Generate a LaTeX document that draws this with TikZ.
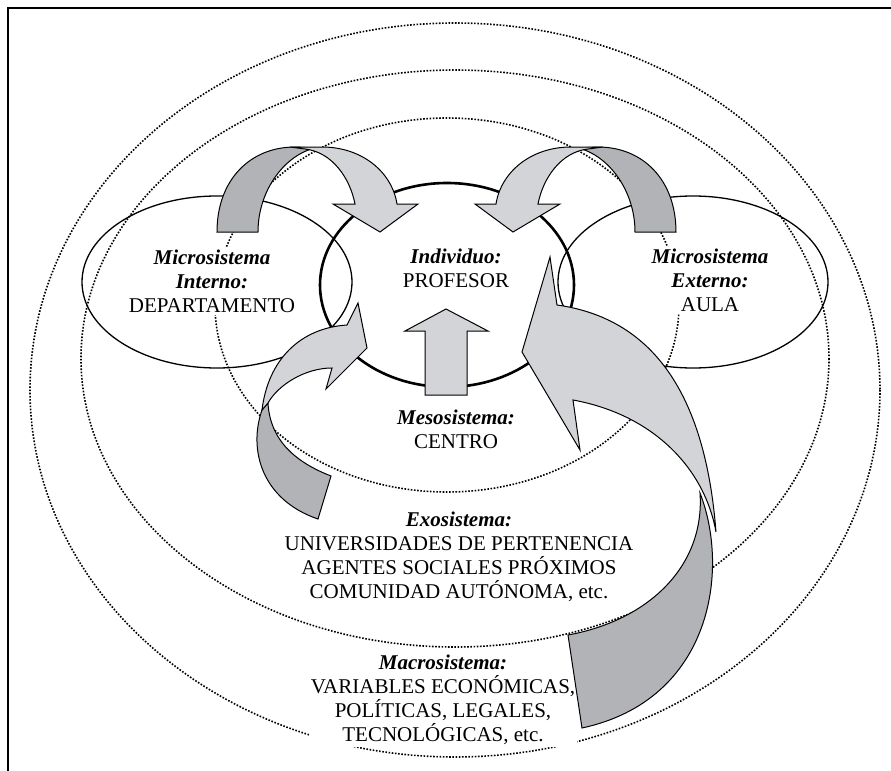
\documentclass[tikz,border=0pt]{standalone}
\usepackage{fontspec}
\setmainfont{Liberation Serif}
\definecolor{darkband}{RGB}{178,179,183}
\definecolor{lightband}{RGB}{211,212,215}
\begin{document}
\begin{tikzpicture}[x=0.5pt, y=-0.5pt,
  sistema/.style={line width=0.8pt, dash pattern=on 0.8pt off 0.8pt},
  micro/.style={line width=0.65pt},
  band/.style={draw, line width=0.5pt},
  rotulo/.style={anchor=north, align=center, fill=white, inner sep=1pt, font={\fontsize{10.5}{12}\selectfont}}]
\useasboundingbox (0,0) rectangle (891,771);
% frame
\draw[line width=0.65pt] (891,8) -- (8,8) -- (8,771);

% Macro-, exo- and mesosystem
\draw[sistema] (455,390) ellipse [x radius=425, y radius=367];
\draw[sistema] (455,358.5) ellipse [x radius=374, y radius=288.5];
\draw[sistema] (447,305) ellipse [x radius=232, y radius=187];

% Texts
\node[rotulo] (interno) at (212,247.4) {\textbf{\textit{Microsistema}}\\\textbf{\textit{Interno:}}\\DEPARTAMENTO};
\node[rotulo] (individuo) at (456,246.4) {\textbf{\textit{Individuo:}}\\PROFESOR};
\node[rotulo] (externo) at (710,246.4) {\textbf{\textit{Microsistema}}\\\textbf{\textit{Externo:}}\\AULA};
\node[rotulo] (meso) at (456,407.4) {\textbf{\textit{Mesosistema:}}\\CENTRO};
\node[rotulo] (exo) at (459,509.4) {\textbf{\textit{Exosistema:}}\\UNIVERSIDADES DE PERTENENCIA\\AGENTES SOCIALES PRÓXIMOS\\COMUNIDAD AUTÓNOMA, etc.};
\node[rotulo] (macro) at (443,652.4) {\textbf{\textit{Macrosistema:}}\\VARIABLES ECONÓMICAS,\\POLÍTICAS, LEGALES,\\TECNOLÓGICAS, etc.};

% Microsystems and individual
\draw[micro] (217,282) ellipse [x radius=135, y radius=86];
\draw[micro] (693,282) ellipse [x radius=135, y radius=86];
\draw[line width=1.3pt] (447,285) ellipse [x radius=127, y radius=102];

% top left arrow
\filldraw[band, fill=darkband] (217,232) .. controls (217,180) and (250,147) .. (295,147) -- (315,148) .. controls (285,155) and (258,190) .. (258,232) -- cycle;
\filldraw[band, fill=lightband] (290,147) -- (322,147) .. controls (362,147) and (392,172) .. (397,204) -- (418,204) -- (380,232) -- (333,204) -- (355,204) .. controls (350,178) and (332,152) .. (305,149) -- cycle;

% top right arrow
\filldraw[band, fill=darkband] (676,232) .. controls (676,180) and (643,147) .. (598,147) -- (578,148) .. controls (608,155) and (635,190) .. (635,232) -- cycle;
\filldraw[band, fill=lightband] (603,147) -- (571,147) .. controls (531,147) and (501,172) .. (496,204) -- (475,204) -- (513,232) -- (560,204) -- (538,204) .. controls (543,178) and (561,152) .. (588,149) -- cycle;

% up arrow
\filldraw[band, fill=lightband] (425,395) -- (425,331) -- (405,331) -- (446,309) -- (488,331) -- (467,331) -- (467,395) -- cycle;

% lower left arrow
\filldraw[band, fill=darkband] (262,410) .. controls (248,450) and (262,500) .. (318,519) -- (331,476) .. controls (295,462) and (270,440) .. (268,403) -- cycle;
\filldraw[band, fill=lightband] (262,410) .. controls (268,360) and (300,328) .. (347,325) -- (358,303) -- (367,348) -- (326,389) -- (332,368) .. controls (305,368) and (278,385) .. (268,403) -- cycle;

% big right arrow
\filldraw[band, fill=darkband] (700,493) .. controls (730,570) and (712,700) .. (582,728) -- (568,635) .. controls (650,620) and (705,565) .. (700,493) -- cycle;
\filldraw[band, fill=lightband] (557,305) .. controls (650,318) and (705,390) .. (716,532) .. controls (705,470) and (655,415) .. (573,400) -- (580,450) -- (522,352) -- (550,257) -- cycle;
\end{tikzpicture}
\end{document}
